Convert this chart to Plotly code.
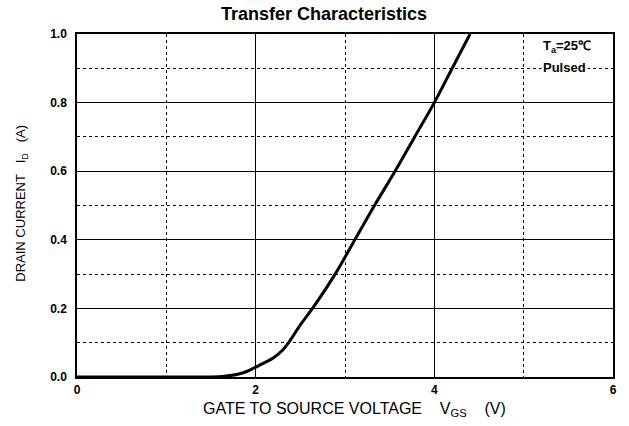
import plotly.graph_objects as go

# Data
vgs = [0.0, 1.0, 1.5, 1.65, 1.8, 1.9, 2.0, 2.1, 2.2, 2.3, 2.4, 2.5, 2.65, 2.89, 3.11, 3.33, 3.56, 3.78, 4.0, 4.20, 4.40]
id_a = [0.0, 0.0, 0.0, 0.002, 0.008, 0.016, 0.029, 0.042, 0.056, 0.078, 0.112, 0.152, 0.205, 0.30, 0.40, 0.50, 0.60, 0.70, 0.80, 0.90, 1.0]

x_ticks = [0, 2, 4, 6]
x_tick_labels = ["0", "2", "4", "6"]
y_ticks = [0.0, 0.2, 0.4, 0.6, 0.8, 1.0]
y_tick_labels = ["0.0", "0.2", "0.4", "0.6", "0.8", "1.0"]

title_text = "Transfer Characteristics"
x_title = "GATE TO SOURCE VOLTAGE\u00a0\u00a0\u00a0\u00a0V<sub>GS</sub>\u00a0\u00a0\u00a0\u00a0(V)"
y_title = "DRAIN CURRENT\u00a0\u00a0\u00a0I<sub>D</sub>\u00a0\u00a0\u00a0(A)"
note_lines = ["T<sub>a</sub>=25\u2103", "Pulsed"]

FONT = "Liberation Sans, Arial, sans-serif"

fig = go.Figure()
fig.add_trace(go.Scatter(
    x=vgs, y=id_a, mode="lines",
    line=dict(color="black", width=3, shape="spline", smoothing=1.0),
    showlegend=False, hoverinfo="skip",
))

axis_common = dict(
    showline=True, linecolor="black", linewidth=1.5, mirror=True,
    showgrid=True, gridcolor="black", gridwidth=1.2,
    zeroline=False, ticks="",
    tickfont=dict(family=FONT, size=12, color="black", weight="bold"),
)

fig.update_xaxes(
    range=[0, 6], tickvals=x_ticks, ticktext=x_tick_labels,
    ticklabelstandoff=1,
    minor=dict(dtick=1, showgrid=True, gridcolor="black", griddash="dot", gridwidth=1),
    **axis_common,
)
fig.update_yaxes(
    range=[0, 1.0], tickvals=y_ticks, ticktext=y_tick_labels,
    ticklabelstandoff=6,
    minor=dict(dtick=0.1, showgrid=True, gridcolor="black", griddash="dot", gridwidth=1),
    **axis_common,
)

fig.update_layout(
    width=629, height=426,
    margin=dict(l=77, r=13, t=34, b=49),
    paper_bgcolor="white", plot_bgcolor="white",
    font=dict(family=FONT, color="black"),
    hovermode=False,
    title=dict(text=title_text, x=0.515, xref="container", xanchor="center",
               y=0.967, yref="container", yanchor="middle",
               font=dict(family=FONT, size=18, color="black", weight="bold")),
    annotations=[
        dict(text=x_title, xref="paper", yref="paper", x=0.518, y=-0.094,
             xanchor="center", yanchor="middle", showarrow=False,
             font=dict(family=FONT, size=16, color="black")),
        dict(text=y_title, xref="paper", yref="paper", x=-0.104, y=0.506,
             xanchor="center", yanchor="middle", textangle=-90, showarrow=False,
             font=dict(family=FONT, size=13, color="black")),
        dict(text=note_lines[0], xref="paper", yref="paper", x=0.865, y=0.963,
             xanchor="left", yanchor="middle", showarrow=False, bgcolor="white",
             font=dict(family=FONT, size=13, color="black", weight="bold")),
        dict(text=note_lines[1], xref="paper", yref="paper", x=0.865, y=0.901,
             xanchor="left", yanchor="middle", showarrow=False, bgcolor="white",
             font=dict(family=FONT, size=13, color="black", weight="bold")),
    ],
)

# remove the browser's default 8px body margin so the figure fills the window exactly
fig.write_html("out.html", config={"displayModeBar": False},
               post_script="document.body.style.margin='0';")
